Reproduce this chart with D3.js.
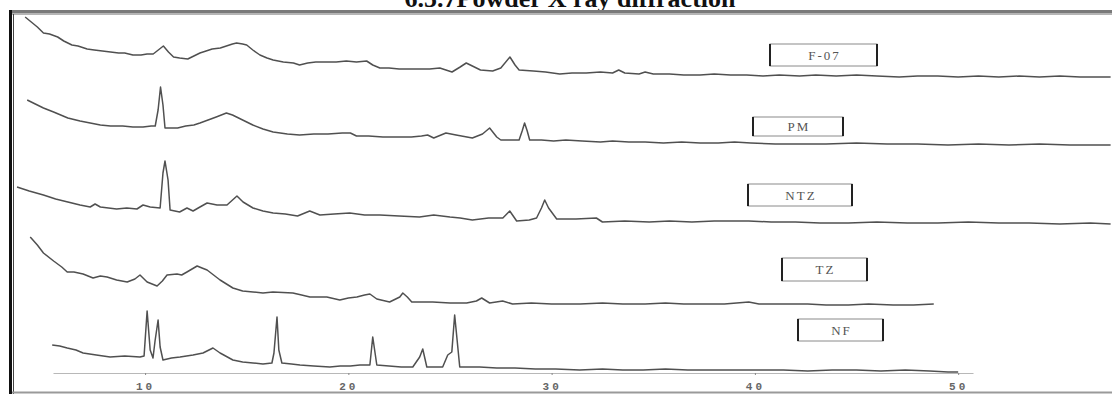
<!DOCTYPE html>
<html>
<head>
<meta charset="utf-8">
<script src="https://cdn.jsdelivr.net/npm/d3@7"></script>
<style>
  body { margin: 0; background: #fff; }
  svg { display: block; }
</style>
</head>
<body>
<svg id="chart"></svg>
<script>
// sample names, top to bottom
const samples = ['F-07', 'PM', 'NTZ', 'TZ', 'NF'];
// vertical stacking offset of each pattern (a.u.)
const offsets = [307, 239, 160, 79, 13];
const axisTicks = [10, 20, 30, 40, 50];

// [2theta, intensity above own baseline]
const f07 = [[4.1,60],[4.4,55],[4.7,50],[5.0,44],[5.3,43],[5.7,40],[6.0,36],[6.4,32],[6.7,31],[7.15,28],[7.5,27],[7.9,26],[8.3,25],[8.7,24],[9.0,24],[9.4,22],[9.8,22],[10.1,23],[10.4,23],[10.65,27],[10.9,31],[11.15,25],[11.4,20],[11.7,19],[12.1,18],[12.4,21],[12.7,24],[13.0,26],[13.3,28],[13.7,29],[14.0,31],[14.3,33],[14.5,34],[14.8,33],[15.0,32],[15.3,27],[15.65,22],[16.0,19],[16.3,17],[16.8,15],[17.3,14],[17.6,12],[18.0,14],[18.4,15],[18.9,15],[19.4,15],[19.9,16],[20.4,15],[20.9,16],[21.2,12],[21.55,9],[22.0,9],[22.5,8],[23.0,8],[23.5,8],[24.0,8],[24.5,9],[24.8,7],[25.1,5],[25.5,10],[25.8,14],[26.1,11],[26.5,7],[27.1,6],[27.5,9],[27.95,20],[28.2,12],[28.4,7],[29.1,6],[29.7,5],[30.4,3],[31.0,4],[31.7,4],[32.4,5],[33.0,4],[33.3,7],[33.6,4],[34.3,3],[34.6,5],[35.0,3],[35.8,3],[36.5,2],[37.3,2],[38,3],[38.8,2],[39.6,2],[40.4,1],[41.2,2],[42.2,1],[43,2],[44,1],[45,2],[46,1],[47.1,0],[48,1],[49,1],[50,0],[51,1],[52,0],[53,1],[54,0],[55,1],[56,0],[57.5,0]];

const pm = [[4.2,45],[4.6,41],[5.0,37],[5.5,33],[6.2,27],[6.8,24],[7.3,22],[7.8,20],[8.3,19],[8.9,19],[9.4,18],[9.9,18],[10.3,19],[10.5,19],[10.64,35],[10.76,58],[10.88,40],[10.98,17],[11.3,17],[11.6,17],[12.0,19],[12.4,20],[12.7,22],[13.1,25],[13.5,28],[14.0,32],[14.3,30],[14.7,26],[15.3,20],[15.8,16],[16.3,13],[17.0,11],[17.6,10],[18.3,11],[19.0,11],[19.7,12],[20.1,12],[20.4,9],[21.0,9],[21.7,8],[22.5,8],[23.1,8],[23.6,9],[23.9,10],[24.2,7],[24.8,12],[25.3,10],[26.1,7],[26.6,11],[26.95,17],[27.3,8],[27.5,5],[28.0,5],[28.4,5],[28.55,14],[28.67,22],[28.8,14],[28.92,5],[29.5,5],[30.1,4],[30.7,5],[31.5,4],[32.4,3],[33.0,4],[33.8,3],[34.6,3],[35.5,2],[36.4,3],[37.3,2],[38.2,2],[39.0,3],[39.8,2],[41,1],[42.2,1],[43.5,1],[45,2],[46.5,1],[48,1],[49.5,0],[51,1],[52.5,0],[54,1],[55.5,0],[57.5,0]];

const ntz = [[3.7,37],[4.3,33],[5.0,29],[5.6,25],[6.2,22],[6.8,19],[7.3,17],[7.54,20],[7.8,17],[8.6,15],[9.1,16],[9.6,15],[9.9,19],[10.25,17],[10.74,16],[10.88,51],[10.98,63],[11.13,44],[11.23,14],[11.7,12],[12.06,16],[12.36,13],[12.7,17],[13.05,21],[13.54,19],[14.03,19],[14.52,28],[14.82,22],[15.31,16],[15.8,13],[16.3,11],[16.9,10],[17.5,8],[18.1,13],[18.6,9],[19.3,10],[20.07,11],[20.8,9],[21.55,9],[22.5,8],[23.5,7],[24.2,9],[25.0,7],[25.5,6],[26.1,4],[26.9,6],[27.6,6],[27.94,13],[28.28,3],[28.9,4],[29.26,6],[29.5,16],[29.66,24],[29.85,16],[30.25,5],[31.2,5],[32.2,6],[32.5,2],[33.6,3],[34.8,2],[35.8,3],[36.9,2],[38.0,3],[39.7,3],[40.8,2],[42.0,2],[43.2,1],[44.6,1],[46,2],[47.5,1],[49,1],[50.5,2],[52,1],[53.5,1],[55,0],[56.5,1],[57.5,0]];

const tz = [[4.35,68],[4.7,60],[5.0,52],[5.5,44],[5.9,38],[6.17,33],[6.5,33],[6.95,31],[7.44,27],[7.8,29],[8.13,28],[8.6,25],[9.12,23],[9.5,26],[9.75,30],[10.1,23],[10.59,19],[10.85,24],[11.08,30],[11.57,31],[11.8,30],[12.06,33],[12.56,39],[12.8,37],[13.05,35],[13.69,25],[14.32,17],[14.8,14],[15.31,13],[15.8,12],[16.29,13],[17.27,12],[17.7,10],[18.11,8],[18.94,8],[19.58,5],[20.0,7],[20.42,8],[20.8,10],[21.06,11],[21.4,6],[22.03,3],[22.53,8],[22.68,12],[22.9,8],[23.12,3],[23.6,3],[24.15,3],[25.0,2],[25.82,2],[26.3,4],[26.56,7],[26.95,2],[27.59,4],[28.08,1],[29.0,2],[30.0,1],[31.4,1],[32.5,2],[33.5,1],[34.6,1],[35.6,2],[36.5,1],[37.3,1],[38.5,1],[39.7,3],[40.2,1],[41.5,1],[42.6,1],[43.5,0],[44.6,0],[45.6,1],[46.8,0],[47.8,0],[48.8,1]];

const nf = [[5.43,26],[5.8,25],[6.17,23],[6.6,21],[6.95,18],[7.6,16],[8.28,14],[9.0,15],[9.75,14],[9.95,15],[10.1,60],[10.25,21],[10.39,13],[10.49,30],[10.64,51],[10.74,24],[10.88,11],[11.3,13],[11.72,14],[12.36,16],[12.85,18],[13.34,23],[13.69,18],[14.32,11],[14.8,9],[15.31,8],[15.8,7],[16.24,8],[16.34,18],[16.49,54],[16.58,21],[16.73,8],[17.2,7],[17.62,6],[18.3,5],[19.09,4],[19.6,5],[20.1,5],[20.57,6],[21.06,6],[21.2,34],[21.4,6],[22.0,5],[22.6,4],[23.17,4],[23.51,14],[23.66,22],[23.86,4],[24.3,4],[24.64,4],[24.89,16],[25.09,19],[25.23,56],[25.48,4],[25.9,4],[26.46,4],[27.3,3],[28.2,3],[29.2,2],[30.2,2],[31.38,1],[32.5,2],[33.5,1],[34.5,1],[35.6,2],[36.7,1],[37.8,1],[39.0,1],[40.2,1],[41.4,1],[42.6,0],[43.8,1],[45.0,1],[46.2,0],[47.4,1],[48.6,0],[49.5,-1],[50.0,-1]];

const patterns = [f07, pm, ntz, tz, nf];

// label boxes (pixel layout)
const labelBoxes = [
  { x: 770, y: 44, w: 107, h: 22 },
  { x: 753, y: 117, w: 90, h: 19 },
  { x: 748, y: 184, w: 104, h: 22 },
  { x: 782, y: 258, w: 85, h: 23 },
  { x: 798, y: 319, w: 85, h: 22 }
];

const width = 1112, height = 394;

const svg = d3.select('#chart')
  .attr('width', width)
  .attr('height', height);

const x = d3.scaleLinear()
  .domain([5.47, 50.73])
  .range([53, 973]);

const y = d3.scaleLinear()
  .domain([0, 380])
  .range([384, 4]);

svg.append('defs').append('clipPath')
  .attr('id', 'plot-clip')
  .append('rect')
  .attr('x', 15).attr('y', 16)
  .attr('width', width - 15).attr('height', height - 18);

// title, cut off by the top of the picture as in the source
svg.append('text')
  .attr('x', 570)
  .attr('y', 7)
  .attr('text-anchor', 'middle')
  .style('font-family', '"Liberation Serif", "Times New Roman", serif')
  .style('font-weight', 'bold')
  .style('font-size', '26px')
  .style('fill', '#111')
  .text('6.5.7Powder X ray diffraction');

// frame
svg.append('rect')
  .attr('x', 10).attr('y', 10)
  .attr('width', width - 10).attr('height', 3)
  .attr('fill', '#7a7a7a');
svg.append('rect')
  .attr('x', 10).attr('y', 13)
  .attr('width', width - 10).attr('height', 2)
  .attr('fill', '#b5b5b5');
svg.append('rect')
  .attr('x', 9).attr('y', 10)
  .attr('width', 3).attr('height', height - 10)
  .attr('fill', '#111');
svg.append('line')
  .attr('x1', 13.5).attr('x2', 13.5)
  .attr('y1', 14).attr('y2', height)
  .attr('stroke', '#444')
  .attr('stroke-width', 1);
svg.append('line')
  .attr('x1', 12).attr('x2', width)
  .attr('y1', 392.5).attr('y2', 392.5)
  .attr('stroke', '#9a9a9a')
  .attr('stroke-width', 2);

// x axis
const xAxis = d3.axisBottom(x)
  .tickValues(axisTicks)
  .tickSize(2)
  .tickSizeOuter(0);

const axisG = svg.append('g')
  .attr('class', 'x axis')
  .attr('transform', 'translate(0,373)')
  .call(xAxis);
axisG.select('.domain')
  .attr('stroke', '#b8b8b8')
  .attr('stroke-width', 1.2);
axisG.selectAll('.tick line')
  .attr('stroke', '#888');
axisG.selectAll('.tick text')
  .attr('y', 17)
  .attr('dy', 0)
  .attr('fill', '#666')
  .style('font-family', '"Liberation Mono", "DejaVu Sans Mono", monospace')
  .style('font-weight', 'bold')
  .style('font-size', '11px')
  .style('letter-spacing', '3px');

// diffraction patterns
const plot = svg.append('g').attr('clip-path', 'url(#plot-clip)');

patterns.forEach((pts, i) => {
  const line = d3.line()
    .x(d => x(d[0]))
    .y(d => y(d[1] + offsets[i]));
  plot.append('path')
    .datum(pts)
    .attr('class', 'line')
    .attr('d', line)
    .attr('fill', 'none')
    .attr('stroke', '#505050')
    .attr('stroke-width', 1.5)
    .attr('stroke-linejoin', 'round');
});

// sample labels
const labels = svg.append('g').selectAll('g')
  .data(samples)
  .enter().append('g')
  .attr('transform', (d, i) => 'translate(' + labelBoxes[i].x + ',' + labelBoxes[i].y + ')');

labels.append('rect')
  .attr('width', (d, i) => labelBoxes[i].w)
  .attr('height', (d, i) => labelBoxes[i].h)
  .attr('fill', '#fff')
  .attr('stroke', '#8a8a8a')
  .attr('stroke-width', 1);
labels.append('line')
  .attr('x1', 0).attr('x2', 0)
  .attr('y1', 0).attr('y2', (d, i) => labelBoxes[i].h)
  .attr('stroke', '#222').attr('stroke-width', 2);
labels.append('line')
  .attr('x1', (d, i) => labelBoxes[i].w).attr('x2', (d, i) => labelBoxes[i].w)
  .attr('y1', 0).attr('y2', (d, i) => labelBoxes[i].h)
  .attr('stroke', '#222').attr('stroke-width', 2);
labels.append('text')
  .attr('x', (d, i) => labelBoxes[i].w / 2 + 1)
  .attr('y', (d, i) => labelBoxes[i].h / 2 + 4.5)
  .attr('text-anchor', 'middle')
  .attr('fill', '#555')
  .style('font-family', '"Liberation Serif", "Times New Roman", serif')
  .style('font-size', '13px')
  .style('letter-spacing', '2px')
  .text(d => d);
</script>
</body>
</html>
